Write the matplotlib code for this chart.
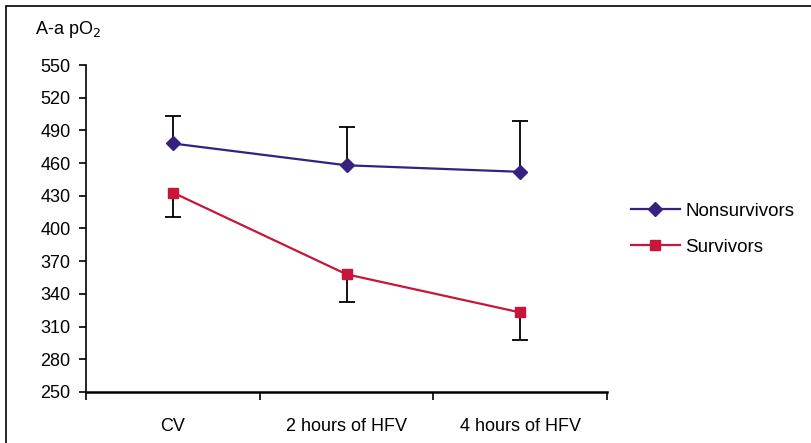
import matplotlib
matplotlib.use("Agg")
import matplotlib.pyplot as plt
from matplotlib.patches import Rectangle

categories = ["CV", "2 hours of HFV", "4 hours of HFV"]
nonsurvivors = [478, 458, 452]
nonsurvivors_err_up = [25, 35, 47]
survivors = [433, 358, 323]
survivors_err_down = [22, 25, 25]
yticks = [250, 280, 310, 340, 370, 400, 430, 460, 490, 520, 550]

plt.rcParams['font.family'] = ['Liberation Sans', 'DejaVu Sans']

W, H = 811, 443
fig = plt.figure(figsize=(W/100, H/100), dpi=100)
fig.patches.append(Rectangle((6/W, -0.01), 1.02, (H-6)/H + 0.01, transform=fig.transFigure,
                             fill=False, edgecolor='black', linewidth=1.2))

ax = fig.add_axes([86/W, (H-392)/H, (607-86)/W, (392-65)/H])
x = list(range(1, len(categories)+1))
purple = '#36217F'
red = '#C8163A'

ns_top = [v + e for v, e in zip(nonsurvivors, nonsurvivors_err_up)]
sv_bot = [v - e for v, e in zip(survivors, survivors_err_down)]
ax.vlines(x, nonsurvivors, ns_top, color='black', lw=1.3, zorder=1)
ax.vlines(x, sv_bot, survivors, color='black', lw=1.3, zorder=1)
ax.plot(x, ns_top, ls='none', marker='_', ms=12, mew=1.3, color='black', zorder=1)
ax.plot(x, sv_bot, ls='none', marker='_', ms=12, mew=1.3, color='black', zorder=1)
ax.plot(x, nonsurvivors, color=purple, lw=1.6, marker='D', ms=7, label='Nonsurvivors', zorder=3)
ax.plot(x, survivors, color=red, lw=1.6, marker='s', ms=7, label='Survivors', zorder=3)

ax.set_xlim(0.5, 3.5)
ax.set_ylim(250, 550)
ax.set_yticks(yticks)
ax.set_yticklabels([str(v) for v in yticks], fontsize=13)
ax.set_xticks(x)
ax.set_xticklabels(categories, fontsize=13)
ax.set_xticks([0.5, 1.5, 2.5, 3.5], minor=True)
ax.tick_params(axis='x', which='major', length=0, pad=19)
ax.tick_params(axis='x', which='minor', length=6, width=1.2, direction='out')
ax.tick_params(axis='y', length=5, width=1.2, direction='out', pad=6)
for s in ['top', 'right']:
    ax.spines[s].set_visible(False)
ax.spines['left'].set_linewidth(1.2)
ax.spines['bottom'].set_linewidth(1.8)

fig.text(35/W, 1-30/H, 'A-a pO$_2$', fontsize=13, va='center', ha='left')

leg = fig.legend(loc='center left', bbox_to_anchor=(614/W, 1-229/H), frameon=False,
                 fontsize=13.5, handlelength=2.6, handletextpad=0.3, labelspacing=1.0)

fig.savefig('out.png', dpi=100)
